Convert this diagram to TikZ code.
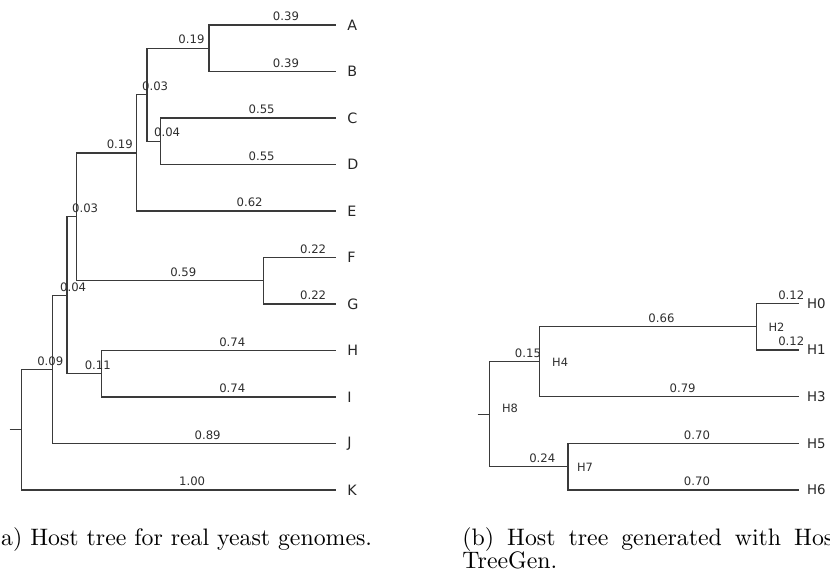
\documentclass[tikz,border=0pt]{standalone}
\usepackage{fontspec}
\newfontfamily\treefont{DejaVu Sans}
\usetikzlibrary{calc}
\definecolor{branchcol}{HTML}{3A3A3A}
\definecolor{labcol}{HTML}{2E2E2E}
\tikzset{
  branch/.style={draw=branchcol, line width=0.55pt},
  blab/.style={anchor=base west, inner sep=0pt, text=labcol, font=\treefont\fontsize{4.9}{5}\selectfont, yshift=1.8pt},
  leaflab/.style={anchor=west, inner sep=0pt, text=black!85, font=\treefont\fontsize{6}{6}\selectfont},
  leaflabb/.style={anchor=west, inner sep=0pt, text=black!85, font=\treefont\fontsize{5.6}{6}\selectfont},
  intlab/.style={anchor=west, inner sep=0pt, text=labcol, font=\treefont\fontsize{4.8}{5}\selectfont},
  capt/.style={anchor=base west, inner sep=0pt, font=\fontsize{10}{12}\selectfont}
}
\begin{document}
\begin{tikzpicture}[x=0.42pt, y=-0.42pt]
\useasboundingbox (0,0) rectangle (830,574);
\clip (0,0) rectangle (830,574);

% ---------- tree (a): leaves ----------
\coordinate (A) at (336,25);
\coordinate (B) at (336,71.5);
\coordinate (C) at (336,118);
\coordinate (D) at (336,164.5);
\coordinate (E) at (336,211);
\coordinate (F) at (336,257.5);
\coordinate (G) at (336,304);
\coordinate (H) at (336,350.5);
\coordinate (I) at (336,397);
\coordinate (J) at (336,443.5);
\coordinate (K) at (336,490);
% ---------- tree (a): inner nodes ----------
\coordinate (nAB) at (209,48.25);
\coordinate (nCD) at (160.3,141.25);
\coordinate (nAD) at (147,94.75);
\coordinate (nAE) at (136.3,152.9);
\coordinate (nFG) at (263.3,280.75);
\coordinate (nAG) at (76.3,216.8);
\coordinate (nHI) at (101.7,373.75);
\coordinate (nAI) at (67,295.3);
\coordinate (nAJ) at (52.3,369.4);
\coordinate (rootA) at (21.3,429.7);
\coordinate (stubA) at (9.7,429.7);

\draw[branch] (stubA) -- (rootA);
\foreach \p/\c in {nAB/A, nAB/B, nCD/C, nCD/D, nAD/nAB, nAD/nCD, nAE/nAD, nAE/E,
                   nFG/F, nFG/G, nAG/nAE, nAG/nFG, nHI/H, nHI/I, nAI/nAG, nAI/nHI,
                   nAJ/nAI, nAJ/J, rootA/nAJ, rootA/K}
  \draw[branch] (\p) |- (\c);

% branch lengths
\foreach \p/\c/\t in {nAB/A/0.39, nAB/B/0.39, nCD/C/0.55, nCD/D/0.55, nAD/nAB/0.19,
                      nAD/nCD/0.04, nAE/nAD/0.03, nAE/E/0.62, nFG/F/0.22, nFG/G/0.22,
                      nAG/nAE/0.19, nAG/nFG/0.59, nHI/H/0.74, nHI/I/0.74, nAI/nAG/0.03,
                      nAI/nHI/0.11, nAJ/nAI/0.04, nAJ/J/0.89, rootA/nAJ/0.09, rootA/K/1.00}
  \node[blab] at ($(\p|-\c)!0.5!(\c)$) {\t};

% leaf names
\foreach \l in {A,B,C,D,E,F,G,H,I,J,K}
  \node[leaflab] (lab\l) at ([xshift=4.6pt]\l) {\l};

% ---------- tree (b): leaves ----------
\coordinate (H0) at (799,303.3);
\coordinate (H1) at (799,350);
\coordinate (H3) at (799,396.7);
\coordinate (H5) at (799,443.3);
\coordinate (H6) at (799,490);
% ---------- tree (b): inner nodes ----------
\coordinate (H2) at (756.7,326.7);
\coordinate (H4) at (539.3,361.7);
\coordinate (H7) at (568,466.7);
\coordinate (H8) at (489.7,414.2);
\coordinate (stubB) at (477.7,414.2);

\draw[branch] (stubB) -- (H8);
\foreach \p/\c in {H2/H0, H2/H1, H4/H2, H4/H3, H7/H5, H7/H6, H8/H4, H8/H7}
  \draw[branch] (\p) |- (\c);

\foreach \p/\c/\t in {H2/H0/0.12, H2/H1/0.12, H4/H2/0.66, H4/H3/0.79,
                      H7/H5/0.70, H7/H6/0.70, H8/H4/0.15, H8/H7/0.24}
  \node[blab] at ($(\p|-\c)!0.5!(\c)$) {\t};

\foreach \l in {H0,H1,H3,H5,H6}
  \node[leaflabb] (lab\l) at ([xshift=3.2pt]\l) {\l};

\node[intlab] (labH2) at ([xshift=4.8pt, yshift=-0.4pt]H2) {H2};
\node[intlab] (labH4) at ([xshift=5.2pt, yshift=-0.4pt]H4) {H4};
\node[intlab] (labH8) at ([xshift=5.0pt, yshift=2.6pt]H8) {H8};
\node[intlab] (labH7) at ([xshift=3.6pt, yshift=-0.4pt]H7) {H7};

% ---------- captions ----------
\node[capt] (capA) at (-8.5,545) {(a) Host tree for real yeast genomes.};
\node[capt] (capB1) at (462,545) {\makebox[163pt][s]{(b) Host tree generated with Host-}};
\node[capt] (capB2) at (462,568) {TreeGen.};
\end{tikzpicture}
\end{document}
